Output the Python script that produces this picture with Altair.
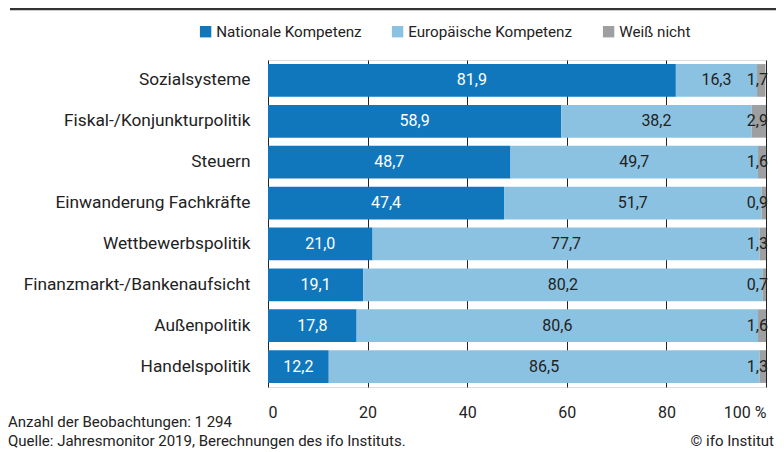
import altair as alt
import pandas as pd

categories = ["Sozialsysteme", "Fiskal-/Konjunkturpolitik", "Steuern", "Einwanderung Fachkräfte",
              "Wettbewerbspolitik", "Finanzmarkt-/Bankenaufsicht", "Außenpolitik", "Handelspolitik"]
national = [81.9, 58.9, 48.7, 47.4, 21.0, 19.1, 17.8, 12.2]
european = [16.3, 38.2, 49.7, 51.7, 77.7, 80.2, 80.6, 86.5]
dontknow = [1.7, 2.9, 1.6, 0.9, 1.3, 0.7, 1.6, 1.3]
series = ["Nationale Kompetenz", "Europäische Kompetenz", "Weiß nicht"]
colors = ["#1177bd", "#8cc2e1", "#9d9fa0"]
x_ticks = [0, 20, 40, 60, 80, 100]

rows = []
for i, c in enumerate(categories):
    for k, vals in enumerate([national, european, dontknow]):
        rows.append({"cat": c, "series": series[k], "ord": k, "v": vals[i]})
df = pd.DataFrame(rows)

FONT = "Roboto"
W, H = 498, 327

y_enc = alt.Y("cat:N", sort=categories, title=None,
              scale=alt.Scale(paddingInner=0.2, paddingOuter=0.1),
              axis=alt.Axis(labelFontSize=17.3, labelColor="#222", labelPadding=18, ticks=False,
                            domain=False, labelFont=FONT, labelLimit=400))

base = alt.Chart(df)

bars = base.mark_bar().encode(
    x=alt.X("v:Q", stack="zero", title=None,
            scale=alt.Scale(domain=[0, 100], nice=False),
            axis=alt.Axis(values=x_ticks, grid=True, gridColor="#222", gridWidth=1, gridOpacity=1,
                          ticks=False, domain=False, labelFontSize=16, labelColor="#222",
                          labelPadding=17, labelFont=FONT,
                          labelExpr="datum.value == 100 ? '100 %' : datum.label")),
    y=y_enc,
    color=alt.Color("series:N", scale=alt.Scale(domain=series, range=colors), title=None,
                    legend=alt.Legend(orient="none", legendX=-70, legendY=-36, direction="horizontal",
                                      symbolType="square", symbolSize=130, symbolStrokeWidth=0,
                                      labelFontSize=15.2, labelColor="#222", labelFont=FONT,
                                      labelLimit=400, columnPadding=28, labelOffset=3)),
    order=alt.Order("ord:Q"),
)

stacked = base.transform_stack(
    stack="v", groupby=["cat"], as_=["x0", "x1"], sort=[alt.SortField("ord")]
).transform_calculate(
    mid="(datum.x0 + datum.x1) / 2",
    lab="replace(format(datum.v, '.1f'), '.', ',')",
)

mid_labels = stacked.transform_filter("datum.ord < 2").mark_text(
    fontSize=16, font=FONT, baseline="middle", align="center"
).encode(
    x=alt.X("mid:Q"),
    y=alt.Y("cat:N", sort=categories),
    text="lab:N",
    color=alt.Color("ord:N", scale=alt.Scale(domain=[0, 1], range=["#ffffff", "#222222"]), legend=None),
)

end_labels = stacked.transform_filter("datum.ord == 2").mark_text(
    fontSize=16, font=FONT, baseline="middle", align="right", dx=2, color="#222"
).encode(
    x=alt.datum(100),
    y=alt.Y("cat:N", sort=categories),
    text="lab:N",
)

top_rule = alt.Chart(pd.DataFrame({"a": [0]})).mark_rule(color="#333", strokeWidth=2.5).encode(
    x=alt.value(-258), x2=alt.value(520), y=alt.value(-51)
)

note_texts = ["Anzahl der Beobachtungen: 1 294", "Quelle: Jahresmonitor 2019, Berechnungen des ifo Instituts."]
note_y = [362, 381]
notes = pd.DataFrame({"t": note_texts, "yy": note_y})
note_text = alt.Chart(notes).mark_text(align="left", baseline="middle", fontSize=15, font=FONT,
                                       color="#222").encode(
    x=alt.value(-260), y=alt.Y("yy:Q", scale=None, axis=None), text="t:N"
)
copy_text = alt.Chart(pd.DataFrame({"t": ["© ifo Institut"]})).mark_text(
    align="right", baseline="middle", fontSize=15, font=FONT, color="#222"
).encode(x=alt.value(506), y=alt.value(381), text="t:N")

chart = alt.layer(bars, mid_labels, end_labels, top_rule, note_text, copy_text).resolve_scale(
    color="independent"
).properties(
    width=W, height=H,
    autosize=alt.AutoSizeParams(type="none"),
    padding={"left": 260, "top": 52, "right": 10, "bottom": 64},
).configure_view(stroke=None).configure(font=FONT)

chart.save("out.html", embed_options={"renderer": "svg", "actions": False})
